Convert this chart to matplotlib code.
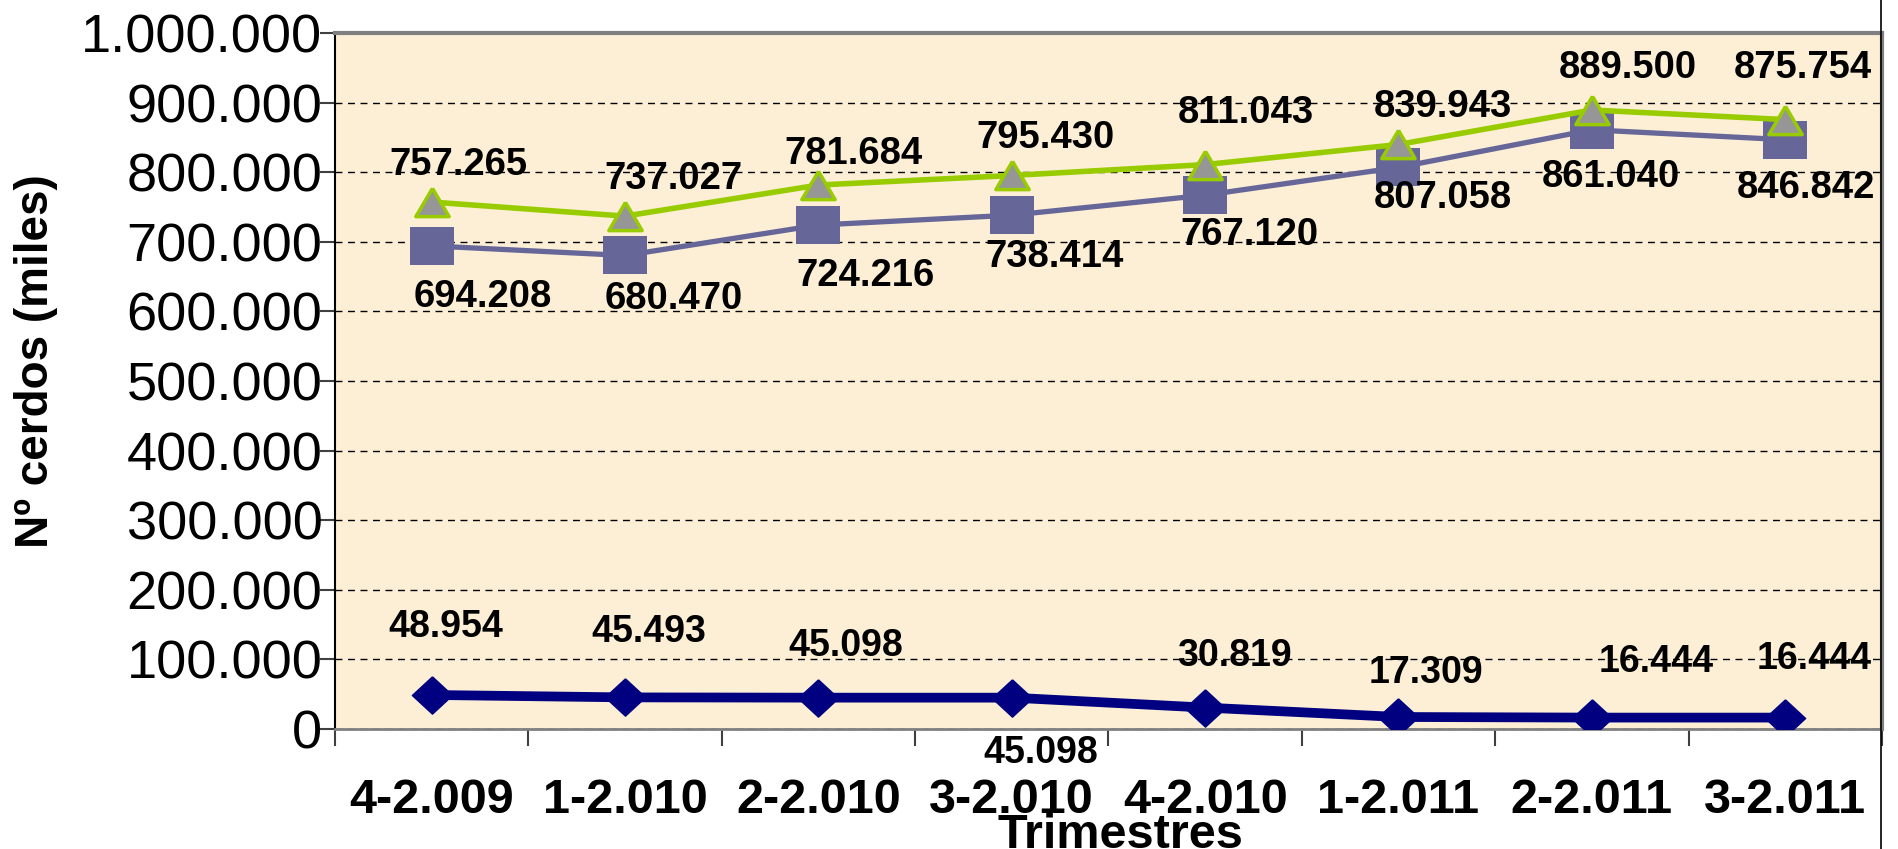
import matplotlib
matplotlib.use("Agg")
import matplotlib.pyplot as plt
from matplotlib.lines import Line2D

plt.rcParams['font.family'] = ['Liberation Sans', 'DejaVu Sans']

# datos
trimestres = ["4-2.009", "1-2.010", "2-2.010", "3-2.010", "4-2.010", "1-2.011", "2-2.011", "3-2.011"]
serie_verde = [757265, 737027, 781684, 795430, 811043, 839943, 889500, 875754]
serie_morada = [694208, 680470, 724216, 738414, 767120, 807058, 861040, 846842]
serie_azul = [48954, 45493, 45098, 45098, 30819, 17309, 16444, 16444]
yticks = list(range(0, 1000001, 100000))

# posicion de las etiquetas (offset en puntos)
off_verde = [(19, 27), (35, 27), (25, 22), (24, 27), (29, 37), (32, 27), (26, 30), (13, 37)]
off_morada = [(37, -37), (35, -31), (34, -37), (31, -30), (32, -29), (32, -22), (14, -34), (15, -35)]
off_azul = [(10, 49), (17, 47), (20, 37), (21, -40), (21, 37), (20, 32), (46, 40), (21, 42)]

# marcadores un poco mas anchos que altos (como en el original)
rombo = [(0, 1), (1.08, 0), (0, -1), (-1.08, 0), (0, 1)]
cuadrado = [(-1.14, -1), (1.14, -1), (1.14, 1), (-1.14, 1), (-1.14, -1)]
triangulo = [(0, 1), (1.18, -1), (-1.18, -1), (0, 1)]


def fmt(v):
    return f"{v:,.0f}".replace(",", ".")


fig = plt.figure(figsize=(18.99, 8.49), dpi=100)
ax = fig.add_axes([0.1764, 0.1413, 0.8146, 0.8197])
ax.set_facecolor("#FCEFD6")

x = list(range(len(trimestres)))

ax.plot(x, serie_azul, color="#000080", lw=7, marker=rombo, markersize=29,
        markerfacecolor="#000080", markeredgecolor="#000080", zorder=3)
ax.plot(x, serie_morada, color="#666699", lw=3.8, marker=cuadrado, markersize=31,
        markerfacecolor="#666699", markeredgecolor="#666699", markeredgewidth=0, zorder=4)
ax.plot(x, serie_verde, color="#99CC00", lw=4, marker=triangulo, markersize=24,
        markerfacecolor="#969696", markeredgecolor="#99CC00", markeredgewidth=2.5, zorder=5)

for i in x:
    ax.annotate(fmt(serie_verde[i]), (i, serie_verde[i]), xytext=off_verde[i],
                textcoords="offset points", ha="center", va="center",
                fontsize=27.5, fontweight="bold", zorder=6)
    ax.annotate(fmt(serie_morada[i]), (i, serie_morada[i]), xytext=off_morada[i],
                textcoords="offset points", ha="center", va="center",
                fontsize=27.5, fontweight="bold", zorder=6)
    ax.annotate(fmt(serie_azul[i]), (i, serie_azul[i]), xytext=off_azul[i],
                textcoords="offset points", ha="center", va="center",
                fontsize=27, fontweight="bold", zorder=6, annotation_clip=False)

ax.set_xlim(-0.5, len(trimestres) - 0.5)
ax.set_ylim(0, 1000000)
ax.set_yticks(yticks)
ax.set_yticklabels([fmt(v) for v in yticks], fontsize=39)
ax.yaxis.grid(True, linestyle=(0, (5, 4)), color="black", lw=1)
ax.set_axisbelow(True)

# ticks del eje x en los limites de cada categoria
ax.set_xticks([i - 0.5 for i in range(len(trimestres) + 1)])
ax.set_xticklabels([])
ax.set_xticks(x, minor=True)
ax.set_xticklabels(trimestres, minor=True, fontsize=35, fontweight="bold")
ax.tick_params(axis="x", which="major", length=12, width=1.5, color="#404040")
ax.tick_params(axis="x", which="minor", length=0, pad=35)
ax.tick_params(axis="y", length=11, width=1.5, pad=-2, color="#404040")

ax.spines["left"].set_color("black")
ax.spines["left"].set_linewidth(1.5)
ax.spines["bottom"].set_color("#808080")
ax.spines["bottom"].set_linewidth(2)
ax.spines["top"].set_color("#808080")
ax.spines["top"].set_linewidth(3)
ax.spines["right"].set_color("#808080")
ax.spines["right"].set_linewidth(3)

fig.text(0.019, 0.575, "Nº cerdos (miles)", rotation=90, ha="center", va="center",
         fontsize=33, fontweight="bold")
fig.text(0.59, 0.016, "Trimestres", ha="center", va="center",
         fontsize=35, fontweight="bold")

fig.add_artist(Line2D([0.9905, 0.9905], [0, 1], transform=fig.transFigure, color="black", lw=1.2))

fig.savefig("out.png", dpi=100)
